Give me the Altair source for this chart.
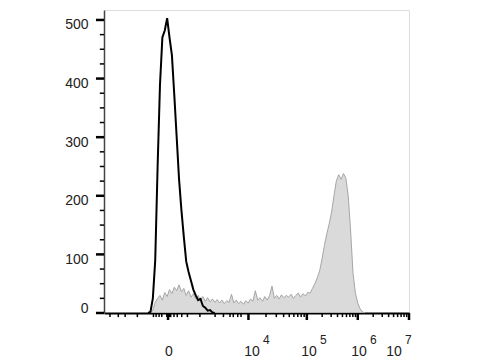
import altair as alt
import pandas as pd
import math

# Histogram bins: 128 display bins over 1024 channels (bin centre = 8*i + 4)
black_start_bin = 18
black_counts = [0, 2, 25, 90, 250, 390, 470, 482, 503, 470, 440, 372, 300, 228, 175,
                130, 88, 70, 55, 40, 30, 22, 24, 12, 9, 4, 5, 1, 0]

gray_start_bin = 19
gray_counts = [0, 5, 18, 25, 30, 22, 35, 28, 40, 33, 44, 38, 48, 36, 42, 30, 38, 27, 33, 24,
               30, 22, 28, 20, 26, 19, 24, 18, 23, 17, 22, 16, 21, 18, 32, 17, 22, 16, 20, 15,
               21, 17, 24, 20, 38, 22, 26, 20, 28, 22, 30, 46, 25, 30, 24, 31, 26, 30, 27, 32,
               25, 30, 34, 27, 33, 29, 35, 34, 42, 50, 60, 72, 92, 115, 135, 152, 172, 200, 225, 236,
               228, 238, 230, 200, 140, 68, 34, 17, 7, 2, 0]

# Axis tick positions (channels)
decade_channels = [485, 681, 852, 1024]          # 10^4, 10^5, 10^6, 10^7
zero_channel = 215
low_ticks = [20, 48, 71, 112, 166, 175, 185, 194, 211, 220, 224, 235, 246, 261, 280,
             322, 373, 401, 423, 434, 449, 460]
label_channels = [218, 497, 688, 856, 974]
label_base = ["0", "10", "10", "10", "10"]
label_exp = ["", "4", "5", "6", "7"]

y_major = [0, 100, 200, 300, 400, 500]
y_minor = [v for v in range(25, 501, 25) if v % 100 != 0]

minor = []
for a, b in zip(decade_channels[:-1], decade_channels[1:]):
    for k in range(2, 10):
        minor.append(round(a + (b - a) * math.log10(k), 1))
x_major = [zero_channel] + decade_channels
x_minor = sorted(low_ticks + minor)

black_df = pd.DataFrame({
    "ch": [(black_start_bin + k) * 8 + 4 for k in range(len(black_counts))],
    "count": black_counts,
})
gray_df = pd.DataFrame({
    "ch": [(gray_start_bin + k) * 8 + 4 for k in range(len(gray_counts))],
    "count": gray_counts,
})
lab_df = pd.DataFrame({"ch": label_channels, "base": label_base, "exp": label_exp})

xscale = alt.Scale(domain=[0, 1024], nice=False, zero=False)
yscale = alt.Scale(domain=[0, 517], nice=False)

x_axis = alt.Axis(
    labels=False, ticks=False, title=None, grid=False,
    domainColor="black", domainWidth=2,
)
y_axis = alt.Axis(
    values=y_major, title=None, grid=False, ticks=False,
    labelFontSize=14, labelColor="#222", labelPadding=16,
    labelOffset={"condition": {"test": "datum.value === 0", "value": -5}, "value": 5},
    domainColor="#444", domainWidth=1.5,
)

gray = alt.Chart(gray_df).mark_area(
    color="#cbcbcb", line={"color": "#a6a6a6", "strokeWidth": 1}
).encode(
    x=alt.X("ch:Q", scale=xscale, axis=x_axis),
    y=alt.Y("count:Q", scale=yscale, axis=y_axis),
)
black = alt.Chart(black_df).mark_line(color="black", strokeWidth=2).encode(
    x=alt.X("ch:Q", scale=xscale),
    y=alt.Y("count:Q", scale=yscale),
)


def xticks(vals, length, width):
    return alt.Chart(pd.DataFrame({"ch": vals})).mark_rule(
        color="black", strokeWidth=width, clip=False
    ).encode(x=alt.X("ch:Q", scale=xscale), y=alt.datum(0), y2=alt.datum(-length))


def yticks(vals, length, width):
    return alt.Chart(pd.DataFrame({"v": vals})).mark_rule(
        color="black", strokeWidth=width, clip=False
    ).encode(y=alt.Y("v:Q", scale=yscale), x=alt.datum(0), x2=alt.datum(-length))


xmin_l = xticks(x_minor, 7, 1.5)
xmaj_l = xticks(x_major, 12, 2.5)
ymin_l = yticks(y_minor, 14, 1.5)
ymaj_l = yticks(y_major, 27, 2.5)

base_txt = alt.Chart(lab_df).mark_text(
    fontSize=14, color="#222", align="center", baseline="alphabetic"
).encode(x=alt.X("ch:Q", scale=xscale), y=alt.value(346), text="base:N")
exp_txt = alt.Chart(lab_df).mark_text(
    fontSize=12, color="#222", align="left", baseline="alphabetic", dx=11
).encode(x=alt.X("ch:Q", scale=xscale), y=alt.value(334), text="exp:N")

chart = alt.layer(gray, black, xmin_l, xmaj_l, ymin_l, ymaj_l, base_txt, exp_txt).properties(
    width=305, height=303,
    autosize=alt.AutoSizeParams(type="none"),
    padding={"left": 104, "top": 10, "right": 71, "bottom": 47},
).configure_view(stroke="#666", strokeWidth=1.5).configure(font="Liberation Sans")

chart.save("out.html", embed_options={"renderer": "svg", "actions": False})
